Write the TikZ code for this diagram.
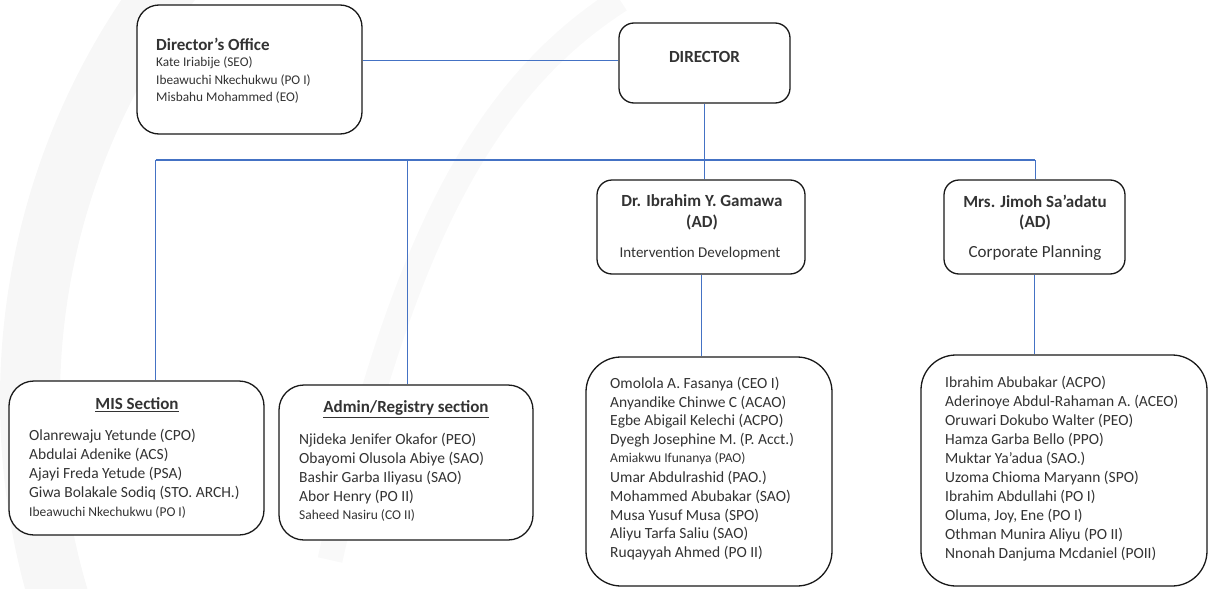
\documentclass[tikz,border=0pt]{standalone}
\usepackage{fontspec}
\setmainfont{Carlito}
\definecolor{conn}{HTML}{4472C4}
\definecolor{txt}{HTML}{333333}
\begin{document}
\begin{tikzpicture}[x=1pt,y=-1pt,
  box/.style={draw=black!90, line width=1.3pt, rounded corners=#1, fill=white, inner sep=0pt},
  box/.default=15pt,
  link/.style={draw=conn, line width=0.9pt},
  ttl/.style={font=\bfseries\fontsize{17}{19}\selectfont, text=txt, inner sep=0pt},
  body/.style={font=\fontsize{15.5}{18}\selectfont, text=txt, inner sep=0pt, anchor=west},
  small/.style={font=\fontsize{13.5}{16}\selectfont, text=txt, inner sep=0pt, anchor=west},
  dobody/.style={font=\fontsize{13.3}{15}\selectfont, text=txt, inner sep=0pt, anchor=west}]
\useasboundingbox (0,0) rectangle (1208,589);
% faint watermark
\begin{scope}
\clip (0,0) rectangle (1208,589);
\draw[line width=60pt, black!3] (720,400) circle (690);
\draw[line width=25pt, black!2.5] (330,560) .. controls (400,250) and (480,90) .. (620,0);
\end{scope}
% boxes
\node[box=22pt, minimum width=225pt, minimum height=129pt] (do) at (249.5,69.5) {};
\node[box=15pt, minimum width=171pt, minimum height=80pt] (dir) at (704.5,63) {};
\node[box=15pt, minimum width=208pt, minimum height=94pt] (gam) at (701,227) {};
\node[box=15pt, minimum width=181pt, minimum height=94pt] (jim) at (1034.5,227) {};
\node[box=25pt, minimum width=255pt, minimum height=154pt] (mis) at (136.5,458) {};
\node[box=25pt, minimum width=254pt, minimum height=155pt] (adm) at (406,462.5) {};
\node[box=35pt, minimum width=246pt, minimum height=229pt] (ist) at (709,471.5) {};
\node[box=35pt, minimum width=286pt, minimum height=231pt] (cst) at (1064,470.5) {};
% connectors
\coordinate (busL) at (155.5,160);
\coordinate (busA) at (407,160);
\coordinate (busR) at (1035,160);
\draw[link] ([yshift=9.5pt]do.east) -- ([yshift=9.5pt]do.east -| dir.west);
\draw[link] (dir.south) -- (dir.south |- gam.north);
\draw[link, line width=1.1pt] (busL) -- (busR);
\draw[link] (busL) -- (busL |- mis.north);
\draw[link] (busA) -- (busA |- adm.north);
\draw[link] (busR) -- (busR |- jim.north);
\draw[link] (gam.south) -- (gam.south |- ist.north);
\draw[link] (jim.south) -- (jim.south |- cst.north);
% Director's office
\node[ttl, anchor=west] (doT) at (156,44) {Director’s Office};
\node[dobody] (do1) at (156,63) {Kate Iriabije (SEO)};
\node[dobody] (do2) at (156,80.5) {Ibeawuchi Nkechukwu (PO I)};
\node[dobody] (do3) at (156,98) {Misbahu Mohammed (EO)};
% Director
\node[ttl] (dirT) at (704.5,57) {DIRECTOR};
% AD boxes
\node[ttl] (gam1) at (702,201) {Dr. Ibrahim Y. Gamawa};
\node[ttl] (gam2) at (702,222) {(AD)};
\node[font=\fontsize{15}{17}\selectfont, text=txt, inner sep=0pt] (gam3) at (700,253) {Intervention Development};
\node[ttl] (jim1) at (1035,201) {Mrs. Jimoh Sa’adatu};
\node[ttl] (jim2) at (1035,222) {(AD)};
\node[font=\fontsize{17}{19}\selectfont, text=txt, inner sep=0pt] (jim3) at (1035,253) {Corporate Planning};
% MIS
\node[ttl] (misT) at (137,405) {\underline{MIS Section}};
\node[body] (mis1) at (29,436) {Olanrewaju Yetunde (CPO)};
\node[body] (mis2) at (29,455) {Abdulai Adenike (ACS)};
\node[body] (mis3) at (29,474) {Ajayi Freda Yetude (PSA)};
\node[body] (mis4) at (29,493) {Giwa Bolakale Sodiq (STO. ARCH.)};
\node[small] (mis5) at (29,512) {Ibeawuchi Nkechukwu (PO I)};
% Admin
\node[ttl] (admT) at (406,409) {\underline{Admin/Registry section}};
\node[body] (adm1) at (299,440) {Njideka Jenifer Okafor (PEO)};
\node[body] (adm2) at (299,459) {Obayomi Olusola Abiye (SAO)};
\node[body] (adm3) at (299,478) {Bashir Garba Iliyasu (SAO)};
\node[body] (adm4) at (299,497) {Abor Henry (PO II)};
\node[small] (adm5) at (299,515.5) {Saheed Nasiru (CO II)};
% Intervention staff
\node[body] (i1) at (610,384) {Omolola A. Fasanya (CEO I)};
\node[body] (i2) at (610,403) {Anyandike Chinwe C (ACAO)};
\node[body] (i3) at (610,421.5) {Egbe Abigail Kelechi (ACPO)};
\node[body] (i4) at (610,440) {Dyegh Josephine M. (P. Acct.)};
\node[small] (i5) at (610,459) {Amiakwu Ifunanya (PAO)};
\node[body] (i6) at (610,478) {Umar Abdulrashid (PAO.)};
\node[body] (i7) at (610,497) {Mohammed Abubakar (SAO)};
\node[body] (i8) at (610,515.5) {Musa Yusuf Musa (SPO)};
\node[body] (i9) at (610,534) {Aliyu Tarfa Saliu (SAO)};
\node[body] (i10) at (610,553) {Ruqayyah Ahmed (PO II)};
% Corporate staff
\node[body] (c1) at (945,383) {Ibrahim Abubakar (ACPO)};
\node[body] (c2) at (945,402) {Aderinoye Abdul-Rahaman A. (ACEO)};
\node[body] (c3) at (945,421) {Oruwari Dokubo Walter (PEO)};
\node[body] (c4) at (945,440) {Hamza Garba Bello (PPO)};
\node[body] (c5) at (945,459) {Muktar Ya’adua (SAO.)};
\node[body] (c6) at (945,478) {Uzoma Chioma Maryann (SPO)};
\node[body] (c7) at (945,497) {Ibrahim Abdullahi (PO I)};
\node[body] (c8) at (945,516) {Oluma, Joy, Ene (PO I)};
\node[body] (c9) at (945,535) {Othman Munira Aliyu (PO II)};
\node[body] (c10) at (945,554) {Nnonah Danjuma Mcdaniel (POII)};
\end{tikzpicture}
\end{document}
